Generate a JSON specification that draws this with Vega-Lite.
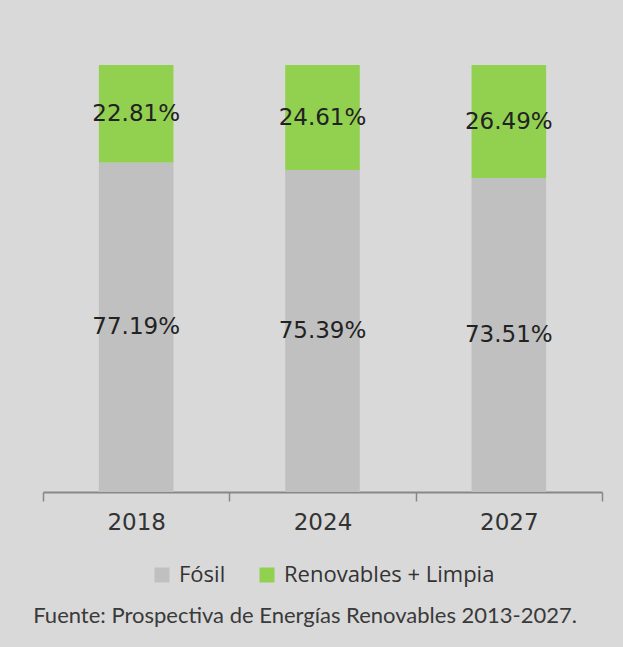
{
  "$schema": "https://vega.github.io/schema/vega-lite/v6.json",
  "width": 559,
  "height": 427,
  "autosize": {"type": "none"},
  "padding": {"left": 43, "top": 65, "right": 21, "bottom": 155},
  "background": "#d9d9d9",
  "title": {
    "text": "Fuente: Prospectiva de Energías Renovables 2013-2027.",
    "orient": "bottom",
    "anchor": "start",
    "font": "Lato",
    "fontSize": 22,
    "fontWeight": "normal",
    "color": "#3a3a3a",
    "offset": 20,
    "dx": -9
  },
  "data": {
    "values": [
      {"year": "2018", "type": "Fósil", "share": 0.7719},
      {"year": "2018", "type": "Renovables + Limpia", "share": 0.2281},
      {"year": "2024", "type": "Fósil", "share": 0.7539},
      {"year": "2024", "type": "Renovables + Limpia", "share": 0.2461},
      {"year": "2027", "type": "Fósil", "share": 0.7351},
      {"year": "2027", "type": "Renovables + Limpia", "share": 0.2649}
    ]
  },
  "encoding": {
    "x": {
      "field": "year",
      "type": "nominal",
      "scale": {"paddingInner": 0, "paddingOuter": 0},
      "axis": {
        "title": null,
        "labelAngle": 0,
        "tickBand": "extent",
        "domainColor": "#888888",
        "domainWidth": 2,
        "tickColor": "#888888",
        "tickWidth": 1.5,
        "tickSize": 9,
        "labelFont": "DejaVu Sans",
        "labelFontSize": 23,
        "labelColor": "#333333",
        "labelPadding": 10,
        "grid": false
      }
    }
  },
  "layer": [
    {
      "mark": {"type": "bar", "width": {"band": 0.4}},
      "encoding": {
        "y": {
          "field": "share",
          "type": "quantitative",
          "stack": "zero",
          "scale": {"domain": [0, 1], "nice": false},
          "axis": null
        },
        "order": {"field": "type", "type": "nominal", "sort": "ascending"},
        "color": {
          "field": "type",
          "type": "nominal",
          "scale": {"domain": ["Fósil", "Renovables + Limpia"], "range": ["#c0c0c0", "#92d050"]},
          "legend": {
            "orient": "bottom",
            "direction": "horizontal",
            "title": null,
            "symbolType": "square",
            "symbolSize": 225,
            "symbolStrokeWidth": 0,
            "labelFont": "Open Sans",
            "labelFontSize": 22,
            "labelColor": "#333333",
            "labelLimit": 400,
            "columnPadding": 30,
            "labelOffset": 6,
            "offset": 30
          }
        }
      }
    },
    {
      "mark": {"type": "text", "font": "DejaVu Sans", "fontSize": 23, "color": "#222222", "baseline": "middle"},
      "encoding": {
        "y": {"field": "share", "type": "quantitative", "stack": "zero", "bandPosition": 0.5},
        "order": {"field": "type", "type": "nominal", "sort": "ascending"},
        "detail": {"field": "type"},
        "text": {"field": "share", "type": "quantitative", "format": ".2%"}
      }
    }
  ],
  "config": {
    "view": {"stroke": null},
    "legend": {"layout": {"bottom": {"anchor": "middle"}}}
  }
}
